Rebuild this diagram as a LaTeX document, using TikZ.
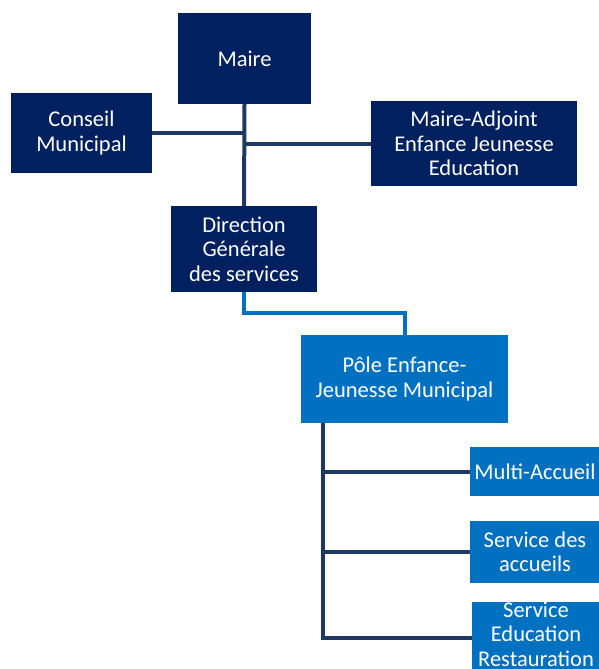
\documentclass[tikz,border=0pt]{standalone}
\usepackage{fontspec}
\setmainfont{Carlito}
\definecolor{navy}{HTML}{002060}
\definecolor{poleblue}{HTML}{0070C0}
\definecolor{linknavy}{HTML}{1F3864}
\tikzset{
  orgbox/.style={fill=navy, text=white, align=center, inner sep=0pt,
    font=\fontsize{22.5}{24.5}\selectfont},
  polebox/.style={orgbox, fill=poleblue},
  link/.style={draw=linknavy, line width=4pt},
  polelink/.style={draw=poleblue, line width=4pt}
}
\begin{document}
\begin{tikzpicture}[x=1pt, y=-1pt]
    \useasboundingbox (0,0) rectangle (598,669);
    % elus
    \node[orgbox, minimum width=133pt, minimum height=91pt] (maire) at (244.5,58.5) {Maire};
    \node[orgbox, minimum width=141pt, minimum height=80pt] (conseil) at (81.5,133) {Conseil\\Municipal};
    \node[orgbox, minimum width=206pt, minimum height=85pt] (adjoint) at (474,143.5) {Maire-Adjoint\\Enfance Jeunesse\\Education};
    \node[orgbox, minimum width=146pt, minimum height=86pt] (direction) at (244,249) {Direction\\Générale\\des services};
    % pole
    \node[polebox, minimum width=207pt, minimum height=88pt] (pole) at (404.5,379) {Pôle Enfance-\\Jeunesse Municipal};
    \node[polebox, minimum width=130pt, minimum height=49pt] (multi) at (535,471.5) {Multi-Accueil};
    \node[polebox, minimum width=130pt, minimum height=62pt] (accueils) at (535,552) {Service des\\accueils};
    \node[polebox, minimum width=128pt, minimum height=69pt, text depth=7pt] (resto) at (536,637.5) {Service\\Education\\Restauration};
    % liens
    \draw[link] (maire.south) -- (direction.north);
    \draw[link] (conseil.east) -- (conseil.east -| maire.south);
    \draw[link] (adjoint.west) -- (adjoint.west -| maire.south);
    \draw[polelink] (direction.south) -- ++(0,21) -| (pole.north);
    \coordinate (trunk) at (323,423);
    \draw[link] (trunk) |- (resto.west);
    \foreach \n in {multi,accueils} {
      \draw[link] (trunk |- \n.west) -- (\n.west);
    }
\end{tikzpicture}
\end{document}
